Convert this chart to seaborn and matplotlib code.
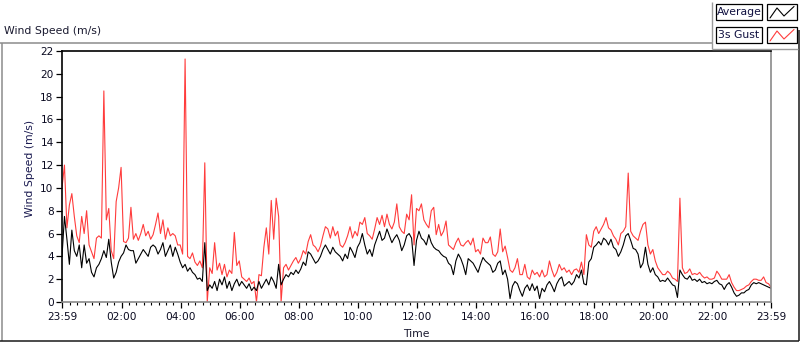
import numpy as np
import pandas as pd
import matplotlib
matplotlib.use("Agg")
import matplotlib.pyplot as plt
import seaborn as sns
from matplotlib.lines import Line2D
from matplotlib.patches import Rectangle

# ---------------- data (minutes after 23:59, 5-minute samples) ----------------
minutes = list(range(0, 1441, 5))

avg_speed = [
    4.0, 7.5, 5.5, 3.3, 6.3, 4.5, 4.0, 5.0, 3.0, 5.0, 3.4, 3.8,
    2.6, 2.2, 3.0, 3.3, 3.8, 4.5, 3.9, 5.5, 3.5, 2.1, 2.6, 3.5,
    4.0, 4.3, 5.0, 4.6, 4.5, 4.5, 3.4, 3.8, 4.2, 4.6, 4.3, 4.0,
    4.8, 5.0, 4.8, 4.2, 4.6, 5.2, 4.0, 4.5, 5.0, 4.0, 4.8, 4.2,
    3.5, 3.0, 3.3, 2.7, 3.0, 2.6, 2.4, 2.0, 2.1, 1.8, 5.2, 1.0,
    1.5, 1.2, 1.8, 1.0, 2.0, 1.5, 2.2, 1.2, 1.8, 1.0, 1.6, 2.0,
    1.4, 1.8, 1.5, 1.2, 1.6, 1.0, 1.3, 1.0, 1.8, 1.2, 1.6, 2.0,
    1.5, 2.2, 1.8, 1.2, 3.3, 1.5, 2.0, 2.4, 2.2, 2.6, 2.4, 2.8,
    2.5, 2.9, 3.5, 3.2, 4.4, 4.2, 3.8, 3.4, 3.6, 4.0, 4.6, 5.0,
    4.6, 4.2, 4.8, 4.4, 4.2, 4.0, 3.6, 4.2, 3.8, 4.8, 4.4, 3.9,
    4.8, 5.2, 6.0, 5.0, 4.2, 4.6, 4.0, 5.0, 5.6, 6.2, 5.4, 5.6,
    6.4, 5.8, 5.2, 5.6, 5.9, 5.4, 4.5, 5.0, 5.8, 6.0, 5.6, 3.2,
    5.4, 6.2, 5.6, 5.4, 5.0, 5.9, 5.2, 4.8, 4.6, 4.5, 4.2, 4.0,
    3.9, 3.4, 3.2, 2.4, 3.6, 4.2, 3.8, 3.2, 2.4, 3.8, 3.6, 3.4,
    3.0, 2.6, 3.3, 3.9, 3.6, 3.4, 3.2, 2.6, 2.8, 3.4, 3.6, 2.4,
    2.8, 2.0, 0.3, 1.4, 1.8, 1.6, 1.0, 0.5, 1.2, 1.5, 1.0, 1.6,
    1.0, 1.4, 0.3, 1.2, 0.9, 1.5, 1.8, 1.4, 0.9, 1.6, 2.0, 2.2,
    1.4, 1.6, 1.8, 1.5, 1.8, 2.4, 2.1, 2.8, 1.6, 1.5, 3.5, 3.8,
    4.8, 5.0, 5.3, 5.0, 5.6, 5.4, 5.0, 5.5, 4.8, 4.6, 4.0, 4.4,
    5.0, 5.8, 6.0, 5.4, 4.7, 4.6, 4.2, 3.0, 3.4, 4.8, 3.3, 2.6,
    3.0, 2.4, 2.2, 1.8, 1.9, 1.8, 2.1, 1.8, 1.5, 1.4, 0.4, 2.8,
    2.4, 2.1, 2.0, 2.3, 1.9, 2.0, 1.8, 2.0, 1.7, 1.8, 1.6, 1.7,
    1.6, 1.8, 1.9, 1.6, 1.5, 1.1, 1.5, 1.7, 1.3, 0.8, 0.5, 0.6,
    0.8, 0.8, 1.0, 1.1, 1.5, 1.7, 1.6, 1.7, 1.6, 1.5, 1.4, 1.3,
    1.2,
]

gust_speed = [
    10.0, 12.0, 6.5, 8.5, 9.5, 7.5, 5.8, 5.2, 7.5, 6.0, 8.0, 5.0,
    4.4, 3.8, 5.6, 5.8, 5.6, 18.5, 7.2, 8.2, 4.5, 3.8, 8.8, 10.0,
    11.8, 5.3, 5.2, 5.6, 8.3, 5.5, 6.0, 5.4, 6.0, 6.8, 5.8, 6.2,
    5.5, 5.9, 6.8, 7.8, 6.0, 7.2, 5.5, 6.5, 5.8, 6.0, 5.8, 5.0,
    5.0, 4.2, 21.3, 4.0, 3.8, 4.3, 3.5, 3.2, 3.6, 3.0, 12.2, 0.0,
    3.0, 2.5, 5.2, 2.8, 3.4, 2.4, 3.3, 2.2, 2.8, 2.5, 6.1, 3.2,
    3.6, 2.2, 2.0, 1.8, 2.1, 1.6, 1.8, 0.0, 2.4, 2.3, 4.8, 6.5,
    4.2, 8.9, 5.5, 9.1, 7.5, 0.0, 3.0, 3.3, 2.8, 3.2, 3.6, 3.9,
    3.4, 3.8, 4.5, 4.2, 5.3, 5.9, 5.0, 4.8, 4.4, 4.9, 5.8, 6.6,
    6.4, 5.6, 6.6, 5.8, 6.2, 5.0, 4.8, 5.2, 5.8, 6.6, 5.6, 6.2,
    5.8, 7.0, 6.8, 7.4, 6.0, 5.8, 5.5, 6.4, 7.4, 6.8, 7.6, 6.6,
    7.7, 6.8, 6.4, 7.0, 8.6, 6.6, 6.2, 6.0, 7.7, 7.2, 9.4, 5.0,
    8.2, 8.0, 8.6, 7.2, 6.8, 6.5, 8.0, 8.3, 5.9, 6.8, 5.8, 6.2,
    7.1, 5.0, 4.8, 4.6, 5.2, 5.6, 5.0, 4.9, 5.2, 5.4, 5.0, 5.6,
    4.4, 4.6, 4.2, 5.6, 5.2, 5.2, 5.7, 4.2, 4.0, 4.4, 6.4, 4.4,
    4.9, 3.9, 2.8, 2.6, 3.0, 3.8, 2.4, 2.4, 3.3, 2.2, 2.0, 2.8,
    2.4, 2.6, 2.2, 2.8, 2.2, 2.4, 3.6, 2.8, 2.2, 2.6, 3.3, 2.8,
    3.0, 2.6, 2.8, 2.4, 2.8, 2.9, 2.6, 3.5, 2.4, 5.9, 5.0, 4.8,
    6.2, 6.6, 6.0, 6.4, 6.8, 7.4, 6.5, 6.3, 5.8, 5.5, 5.0, 6.0,
    6.2, 6.6, 11.3, 6.2, 5.8, 5.6, 5.4, 6.2, 6.8, 7.0, 5.0, 4.2,
    4.6, 3.6, 3.0, 2.7, 2.4, 2.4, 2.7, 2.5, 2.1, 2.0, 1.8, 9.1,
    3.0, 2.5, 2.6, 2.9, 2.4, 2.5, 2.4, 2.6, 2.3, 2.1, 2.2, 2.0,
    2.0, 2.1, 2.7, 2.4, 2.0, 2.0, 2.0, 2.4, 1.7, 1.3, 1.0, 1.0,
    1.1, 1.2, 1.4, 1.5, 1.8, 2.0, 2.0, 1.9, 1.9, 2.2, 1.7, 1.6,
    1.3,
]

series_names = ["3s Gust", "Average"]
series_colors = ["#ff3c3c", "#000000"]

tick_minutes = [0, 121, 241, 361, 481, 601, 721, 841, 961, 1081, 1201, 1321, 1440]
tick_labels = ["23:59", "02:00", "04:00", "06:00", "08:00", "10:00", "12:00",
               "14:00", "16:00", "18:00", "20:00", "22:00", "23:59"]
minor_tick_minutes = [m for m in range(16, 1440, 15) if m not in tick_minutes]
y_ticks = list(range(0, 23, 2))

panel_title = "Wind Speed (m/s)"
y_title = "Wind Speed (m/s)"
x_title = "Time"

# ---------------- figure ----------------
sns.set_theme(style="ticks")
plt.rcParams["font.family"] = ["DejaVu Sans"]

W, H = 800, 342
fig = plt.figure(figsize=(W / 100, H / 100), dpi=100)
fig.patch.set_facecolor("white")


def fx(p):
    return p / W


def fy(p):
    return 1 - p / H


ax = fig.add_axes([fx(62), fy(302), fx(771) - fx(62), fy(51) - fy(302)])
ax.set_facecolor("white")

df = pd.DataFrame({
    "Time": minutes + minutes,
    "Speed": gust_speed + avg_speed,
    "Series": [series_names[0]] * len(minutes) + [series_names[1]] * len(minutes),
})

sns.lineplot(data=df, x="Time", y="Speed", hue="Series", hue_order=series_names,
             palette=dict(zip(series_names, series_colors)), estimator=None,
             linewidth=0.8, legend=False, ax=ax)

ax.set_xlim(0, 1440)
ax.set_ylim(0, 22)
ax.set_xlabel("")
ax.set_ylabel("")
ax.set_xticks(tick_minutes)
ax.set_xticklabels(tick_labels)
ax.set_xticks(minor_tick_minutes, minor=True)
ax.set_yticks(y_ticks)
ax.set_yticklabels([str(v) for v in y_ticks])

for side in ["top", "left"]:
    ax.spines[side].set_color("#000000")
    ax.spines[side].set_linewidth(1.2)
for side in ["bottom", "right"]:
    ax.spines[side].set_color("#8a8a8a")
    ax.spines[side].set_linewidth(1.2)
    ax.spines[side].set_visible(True)

ax.tick_params(axis="both", which="major", direction="out", length=4, width=0.9,
               colors="#000000", labelsize=7.6, pad=2)
ax.tick_params(axis="x", which="minor", direction="out", length=2.5, width=0.8,
               colors="#000000")
ax.tick_params(axis="x", which="major", pad=3)
for lbl in ax.get_xticklabels() + ax.get_yticklabels():
    lbl.set_color("#0a0a20")

# axis titles
fig.text(fx(30), fy(168), y_title, rotation=90, ha="center", va="center",
         fontsize=7.8, color="#1a1a50")
fig.text(fx(416.5), fy(334), x_title, ha="center", va="center",
         fontsize=7.8, color="#1a1a30")
fig.text(fx(4), fy(31), panel_title, ha="left", va="center",
         fontsize=7.8, color="#1a1a30")

# outer frame
def fline(x0, y0, x1, y1, color, lw=1.0):
    fig.add_artist(Line2D([fx(x0), fx(x1)], [fy(y0), fy(y1)], transform=fig.transFigure,
                          color=color, linewidth=lw, solid_capstyle="butt"))


fline(0, 42.5, 712, 42.5, "#8c8c8c", 1.1)
fline(1.5, 42.5, 1.5, 341, "#8c8c8c", 1.1)
fline(0, 340.5, 799, 340.5, "#1a1a1a", 1.1)
fline(798.5, 30, 798.5, 341, "#1a1a1a", 1.1)

# legend panel
fline(712, 2, 712, 48.5, "#9a9a9a", 1.0)
fline(712, 48.5, 798, 48.5, "#9a9a9a", 1.0)

legend_rows = [(4, series_names[1], series_colors[1]), (27, series_names[0], series_colors[0])]
for top, name, col in legend_rows:
    fig.add_artist(Rectangle((fx(716), fy(top + 16)), fx(762) - fx(716), fy(top) - fy(top + 16),
                             transform=fig.transFigure, facecolor="white",
                             edgecolor="#000000", linewidth=0.9))
    fig.text(fx(739), fy(top + 8), name, ha="center", va="center", fontsize=7.8,
             color="#101040")
    fig.add_artist(Rectangle((fx(767), fy(top + 16)), fx(797) - fx(767), fy(top) - fy(top + 16),
                             transform=fig.transFigure, facecolor="white",
                             edgecolor="#000000", linewidth=0.9))
    zx = [770, 777, 784, 794]
    zy = [top + 14, top + 4, top + 12, top + 2.5]
    fig.add_artist(Line2D([fx(v) for v in zx], [fy(v) for v in zy], transform=fig.transFigure,
                          color=col, linewidth=0.8))

fig.savefig("out.png", dpi=100, facecolor="white")
